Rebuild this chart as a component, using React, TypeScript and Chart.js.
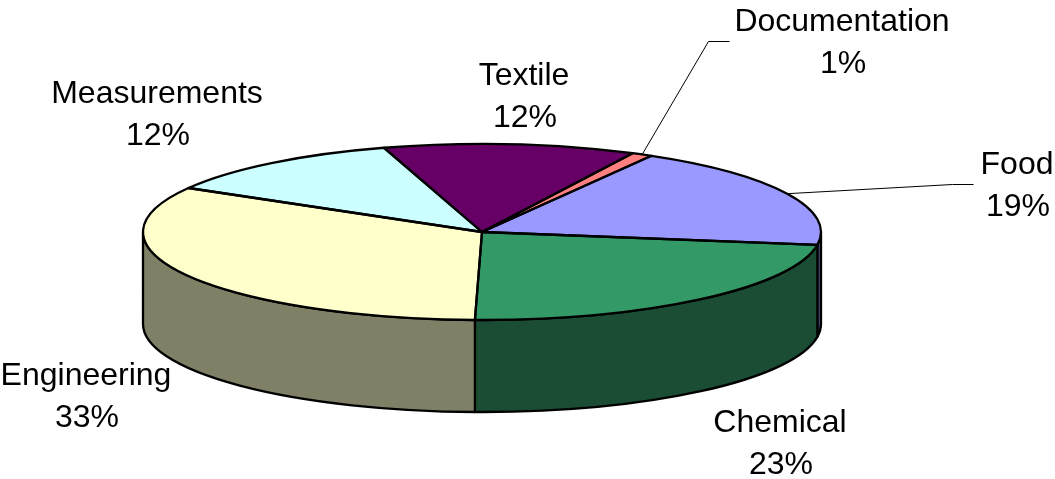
import React, { useEffect, useRef } from "react";
import { Chart, registerables } from "chart.js";

Chart.register(...registerables);

const categories = ["Food", "Chemical", "Engineering", "Measurements", "Textile", "Documentation"];
const shares = [19, 23, 33, 12, 12, 1];
const topColors = ["#9999FF", "#339966", "#FFFFCC", "#CCFFFF", "#660066", "#FF8080"];
const sideColors = ["#4D4D80", "#1A4D33", "#808066", "#668080", "#330033", "#804040"];

const SQUASH = 88 / 339;
const DEPTH = 92;
const FONT = '32px "Liberation Sans", Arial, sans-serif';
const LINE_GAP = 42;
const OUTLINE = 2.3;

// label centre x, first baseline y, optional leader elbow (elbowX, elbowY, endX)
const labelLayout: Record<string, { x: number; y: number; leader?: [number, number, number] }> = {
  Food: { x: 1017, y: 174, leader: [952, 184, 973] },
  Chemical: { x: 780, y: 432 },
  Engineering: { x: 86, y: 385 },
  Measurements: { x: 157, y: 103 },
  Textile: { x: 524, y: 85 },
  Documentation: { x: 842, y: 31, leader: [708, 41, 729] },
};

const pie3d = {
  id: "pie3d",
  beforeDatasetsDraw(chart: any) {
    const { ctx } = chart;
    const arcs = chart.getDatasetMeta(0).data;
    // side wall, below the top face
    arcs.forEach((arc: any, i: number) => {
      const { x, y, startAngle, endAngle, outerRadius: r } = arc.getProps(
        ["x", "y", "startAngle", "endAngle", "outerRadius"],
        true
      );
      const a = Math.max(startAngle, 0);
      const b = Math.min(endAngle, Math.PI);
      if (a >= b) return;
      ctx.save();
      ctx.beginPath();
      ctx.ellipse(x, y, r, r * SQUASH, 0, a, b);
      ctx.ellipse(x, y + DEPTH, r, r * SQUASH, 0, b, a, true);
      ctx.closePath();
      ctx.fillStyle = sideColors[i];
      ctx.fill();
      ctx.lineWidth = OUTLINE;
      ctx.strokeStyle = "#000";
      ctx.lineJoin = "round";
      ctx.stroke();
      ctx.restore();
    });
    // squash the library's circular arcs into the tilted top face
    const first = arcs[0];
    ctx.save();
    ctx.translate(first.x, first.y);
    ctx.scale(1, SQUASH);
    ctx.translate(-first.x, -first.y);
  },
  afterDatasetsDraw(chart: any) {
    const { ctx } = chart;
    ctx.restore();
    const arcs = chart.getDatasetMeta(0).data;
    arcs.forEach((arc: any) => {
      const { x, y, startAngle, endAngle, outerRadius: r } = arc.getProps(
        ["x", "y", "startAngle", "endAngle", "outerRadius"],
        true
      );
      ctx.save();
      ctx.beginPath();
      ctx.moveTo(x, y);
      ctx.ellipse(x, y, r, r * SQUASH, 0, startAngle, endAngle);
      ctx.closePath();
      ctx.lineWidth = OUTLINE;
      ctx.strokeStyle = "#000";
      ctx.lineJoin = "round";
      ctx.stroke();
      ctx.restore();
    });
    arcs.forEach((arc: any, i: number) => {
      const { x, y, startAngle, endAngle, outerRadius: r } = arc.getProps(
        ["x", "y", "startAngle", "endAngle", "outerRadius"],
        true
      );
      const name = categories[i];
      const layout = labelLayout[name];
      if (layout.leader) {
        const mid = (startAngle + endAngle) / 2;
        const [ex, ey, endX] = layout.leader;
        ctx.save();
        ctx.beginPath();
        ctx.moveTo(x + Math.cos(mid) * r, y + Math.sin(mid) * r * SQUASH);
        ctx.lineTo(ex + 0.5, ey + 0.5);
        ctx.lineTo(endX + 0.5, ey + 0.5);
        ctx.lineWidth = 1;
        ctx.strokeStyle = "#000";
        ctx.stroke();
        ctx.restore();
      }
      ctx.save();
      ctx.fillStyle = "#000";
      ctx.font = FONT;
      ctx.textAlign = "center";
      ctx.textBaseline = "alphabetic";
      ctx.fillText(name, layout.x, layout.y);
      ctx.fillText(`${shares[i]}%`, layout.x + 1, layout.y + LINE_GAP);
      ctx.restore();
    });
  },
};

export default function App() {
  const ref = useRef<HTMLCanvasElement>(null);
  useEffect(() => {
    document.body.style.background = "#fff";
    const chart = new Chart(ref.current as HTMLCanvasElement, {
      type: "pie",
      data: {
        labels: categories,
        datasets: [
          {
            data: shares,
            backgroundColor: topColors,
            borderWidth: 0,
            clip: false,
          } as any,
        ],
      },
      options: {
        animation: false,
        responsive: false,
        rotation: 30,
        radius: 339,
        layout: { padding: { right: 91, bottom: 15 } },
        plugins: { legend: { display: false }, tooltip: { enabled: false }, title: { display: false } },
      } as any,
      plugins: [pie3d],
    });
    return () => chart.destroy();
  }, []);
  return (
    <canvas
      ref={ref}
      width={1055}
      height={479}
      style={{ position: "absolute", left: 0, top: 0, width: 1055, height: 479 }}
    />
  );
}
